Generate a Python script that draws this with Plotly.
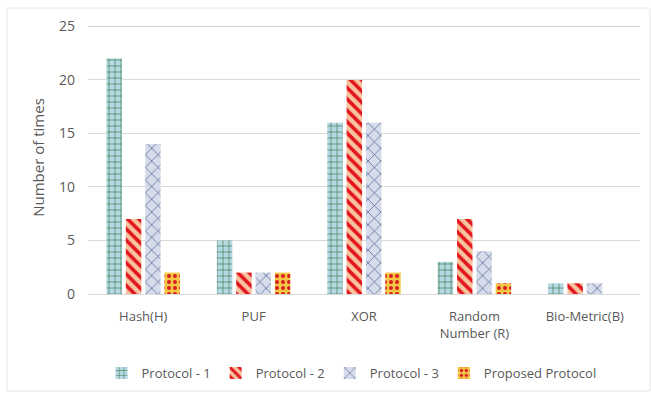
import plotly.graph_objects as go

categories = ["Hash(H)", "PUF", "XOR", "Random<br>Number (R)", "Bio-Metric(B)"]
series_names = ["Protocol - 1", "Protocol - 2", "Protocol - 3", "Proposed Protocol"]
protocol_1 = [22, 5, 16, 3, 1]
protocol_2 = [7, 2, 20, 7, 1]
protocol_3 = [14, 2, 16, 4, 1]
proposed = [2, 2, 2, 1, 0]
y_ticks = [0, 5, 10, 15, 20, 25]

styles = [
    dict(shape="+", fgcolor="#3f7f4f", bgcolor="#b7d9e6", size=6, solidity=0.22),
    dict(shape="\\", fgcolor="#e3161c", bgcolor="#f7c3a0", size=8, solidity=0.45),
    dict(shape="x", fgcolor="#4c5f92", bgcolor="#d6dcea", size=9, solidity=0.15),
    dict(shape=".", fgcolor="#d81e22", bgcolor="#f6c744", size=6, solidity=0.35),
]

fig = go.Figure()
for name, vals, st in zip(series_names, [protocol_1, protocol_2, protocol_3, proposed], styles):
    fig.add_trace(go.Bar(
        x=categories, y=vals, name=name,
        marker=dict(color=st["bgcolor"],
                    pattern=dict(shape=st["shape"], fgcolor=st["fgcolor"], bgcolor=st["bgcolor"],
                                 size=st["size"], solidity=st["solidity"],
                                 fillmode="replace", fgopacity=1),
                    line=dict(width=0)),
    ))

L, R, T, B = 88, 11, 21, 100
W, H = 651, 394
pw, ph = W - L - R, H - T - B

fig.update_layout(
    width=W, height=H,
    margin=dict(l=L, r=R, t=T, b=B),
    paper_bgcolor="white", plot_bgcolor="white",
    font=dict(family="Open Sans, Lato, sans-serif", size=13, color="#595959"),
    barmode="group", bargap=0.3, bargroupgap=0.2,
    showlegend=True,
    legend=dict(orientation="h", x=0.54, xref="container", xanchor="center",
                y=(H - 373) / H, yref="container", yanchor="middle",
                font=dict(size=13, color="#595959"), itemwidth=30, tracegroupgap=0),
    xaxis=dict(showgrid=False, showline=True, linecolor="#d9d9d9", linewidth=1,
               ticks="", ticklabelstandoff=10, tickfont=dict(size=13, color="#595959")),
    yaxis=dict(range=[0, 25.5], tickvals=y_ticks, showgrid=True, gridcolor="#d9d9d9",
               gridwidth=1, zeroline=False, ticks="", showline=False, ticklabelstandoff=12,
               tickfont=dict(size=14, color="#595959"),
               title=dict(text="Number of times", font=dict(size=15, color="#595959"), standoff=10)),
    shapes=[
        dict(type="rect", xref="paper", yref="paper",
             x0=(7 - L) / pw, x1=(650 - L) / pw,
             y0=(ph + T - 391) / ph, y1=(ph + T - 8) / ph,
             line=dict(color="#e6e6e6", width=1), fillcolor="rgba(0,0,0,0)", layer="below"),
        dict(type="line", xref="paper", yref="y", x0=0, x1=1, y0=y_ticks[-1], y1=y_ticks[-1],
             line=dict(color="#d9d9d9", width=1), layer="above"),
    ],
)

fig.write_html("out.html")
